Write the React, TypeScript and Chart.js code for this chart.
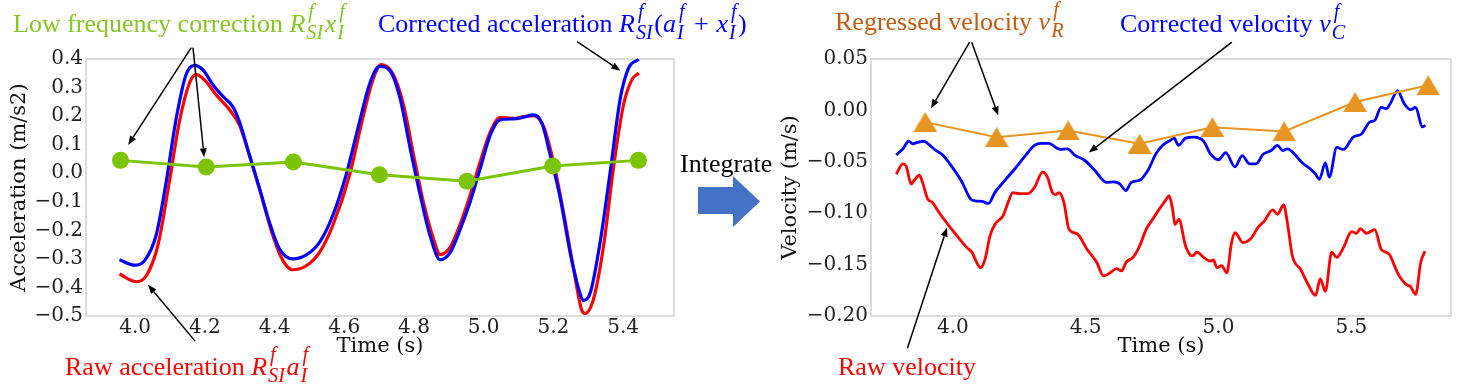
import React, { useEffect, useRef } from 'react';
import { Chart, registerables } from 'chart.js';
Chart.register(...registerables);

// ---------------- data ----------------
const accelTicksX = [4.0, 4.2, 4.4, 4.6, 4.8, 5.0, 5.2, 5.4];
const accelTicksY = [-0.5, -0.4, -0.3, -0.2, -0.1, 0.0, 0.1, 0.2, 0.3, 0.4];
const velTicksX = [4.0, 4.5, 5.0, 5.5];
const velTicksY = [-0.2, -0.15, -0.1, -0.05, 0.0, 0.05];

const corrAccT = [3.955, 3.998, 4.027, 4.060, 4.089, 4.118, 4.146, 4.170, 4.194, 4.223, 4.252, 4.280, 4.299, 4.328, 4.357, 4.385, 4.414, 4.452, 4.491, 4.529, 4.567, 4.605, 4.644, 4.672, 4.701, 4.732, 4.760, 4.789, 4.818, 4.846, 4.875, 4.904, 4.933, 4.961, 4.990, 5.019, 5.047, 5.086, 5.114, 5.143, 5.167, 5.191, 5.220, 5.248, 5.277, 5.286, 5.306, 5.334, 5.363, 5.392, 5.416, 5.445];
const corrAccV = [-0.303, -0.322, -0.306, -0.218, -0.031, 0.193, 0.345, 0.378, 0.363, 0.310, 0.269, 0.233, 0.181, 0.063, -0.054, -0.171, -0.265, -0.300, -0.286, -0.242, -0.148, -0.007, 0.181, 0.310, 0.374, 0.357, 0.263, 0.088, -0.077, -0.218, -0.303, -0.277, -0.195, -0.101, 0.016, 0.134, 0.187, 0.190, 0.196, 0.204, 0.175, 0.063, -0.089, -0.277, -0.424, -0.445, -0.418, -0.242, 0.005, 0.263, 0.369, 0.398];

const rawAccT = [3.955, 4.003, 4.032, 4.065, 4.098, 4.127, 4.156, 4.175, 4.199, 4.232, 4.271, 4.299, 4.328, 4.362, 4.395, 4.424, 4.452, 4.491, 4.529, 4.567, 4.615, 4.653, 4.682, 4.706, 4.741, 4.770, 4.799, 4.827, 4.856, 4.875, 4.904, 4.933, 4.961, 4.990, 5.019, 5.047, 5.086, 5.114, 5.143, 5.172, 5.200, 5.229, 5.258, 5.282, 5.291, 5.315, 5.344, 5.372, 5.401, 5.425, 5.445];
const rawAccV = [-0.353, -0.380, -0.359, -0.254, -0.031, 0.181, 0.316, 0.345, 0.327, 0.275, 0.222, 0.169, 0.063, -0.077, -0.218, -0.306, -0.338, -0.324, -0.277, -0.183, -0.007, 0.193, 0.327, 0.380, 0.345, 0.239, 0.063, -0.101, -0.230, -0.285, -0.259, -0.177, -0.077, 0.040, 0.145, 0.195, 0.192, 0.198, 0.202, 0.163, 0.040, -0.136, -0.336, -0.482, -0.491, -0.441, -0.254, 0.016, 0.239, 0.327, 0.351];

const lowFreqT = [3.958, 4.204, 4.454, 4.701, 4.952, 5.198, 5.444];
const lowFreqV = [0.045, 0.022, 0.039, -0.005, -0.028, 0.025, 0.045];

const corrVelT = [3.787, 3.812, 3.834, 3.849, 3.867, 3.892, 3.911, 3.936, 3.960, 3.997, 4.035, 4.066, 4.084, 4.109, 4.134, 4.158, 4.196, 4.233, 4.270, 4.307, 4.332, 4.363, 4.387, 4.406, 4.431, 4.461, 4.493, 4.530, 4.579, 4.604, 4.628, 4.651, 4.672, 4.703, 4.734, 4.765, 4.790, 4.820, 4.833, 4.849, 4.876, 4.907, 4.944, 4.969, 5.000, 5.027, 5.062, 5.089, 5.117, 5.142, 5.167, 5.198, 5.222, 5.241, 5.259, 5.291, 5.315, 5.346, 5.365, 5.380, 5.402, 5.417, 5.445, 5.470, 5.507, 5.538, 5.569, 5.588, 5.612, 5.631, 5.649, 5.674, 5.699, 5.723, 5.742, 5.767, 5.779];
const corrVelV = [-0.0433, -0.0374, -0.030, -0.0325, -0.031, -0.030, -0.0335, -0.039, -0.043, -0.055, -0.070, -0.086, -0.088, -0.0885, -0.0905, -0.080, -0.068, -0.057, -0.045, -0.034, -0.032, -0.032, -0.036, -0.038, -0.0375, -0.044, -0.048, -0.057, -0.070, -0.0695, -0.0715, -0.078, -0.070, -0.068, -0.0585, -0.042, -0.034, -0.029, -0.027, -0.034, -0.027, -0.026, -0.030, -0.042, -0.048, -0.041, -0.055, -0.044, -0.052, -0.052, -0.043, -0.039, -0.034, -0.039, -0.0375, -0.044, -0.051, -0.057, -0.062, -0.067, -0.051, -0.065, -0.036, -0.038, -0.026, -0.023, -0.0114, -0.0098, 0.003, 0.0016, 0.008, 0.019, 0.0065, 0.0007, 0.003, -0.016, -0.0147];

const rawVelT = [3.787, 3.812, 3.824, 3.843, 3.855, 3.874, 3.886, 3.905, 3.923, 3.948, 3.985, 4.022, 4.053, 4.072, 4.090, 4.105, 4.121, 4.140, 4.158, 4.189, 4.208, 4.226, 4.251, 4.282, 4.307, 4.338, 4.356, 4.375, 4.387, 4.400, 4.418, 4.437, 4.468, 4.505, 4.542, 4.567, 4.592, 4.616, 4.635, 4.653, 4.678, 4.703, 4.728, 4.752, 4.777, 4.802, 4.814, 4.827, 4.836, 4.851, 4.876, 4.901, 4.919, 4.944, 4.969, 4.981, 4.994, 5.012, 5.031, 5.049, 5.062, 5.092, 5.124, 5.148, 5.173, 5.204, 5.222, 5.245, 5.259, 5.278, 5.309, 5.334, 5.365, 5.383, 5.402, 5.426, 5.445, 5.470, 5.501, 5.519, 5.534, 5.556, 5.588, 5.612, 5.643, 5.662, 5.680, 5.705, 5.723, 5.742, 5.761, 5.777];
const rawVelV = [-0.062, -0.052, -0.054, -0.0716, -0.068, -0.063, -0.070, -0.086, -0.0895, -0.0993, -0.112, -0.124, -0.1335, -0.138, -0.148, -0.153, -0.145, -0.122, -0.111, -0.1025, -0.0895, -0.080, -0.081, -0.081, -0.075, -0.060, -0.065, -0.080, -0.082, -0.080, -0.0895, -0.1155, -0.120, -0.135, -0.148, -0.161, -0.158, -0.154, -0.156, -0.1475, -0.143, -0.132, -0.1155, -0.106, -0.096, -0.087, -0.083, -0.096, -0.111, -0.106, -0.132, -0.1416, -0.138, -0.143, -0.1465, -0.1455, -0.153, -0.151, -0.158, -0.1286, -0.119, -0.1286, -0.124, -0.114, -0.1074, -0.0967, -0.101, -0.092, -0.109, -0.1416, -0.1546, -0.1677, -0.180, -0.164, -0.176, -0.138, -0.143, -0.1335, -0.118, -0.1195, -0.115, -0.1195, -0.116, -0.135, -0.140, -0.151, -0.161, -0.169, -0.1716, -0.179, -0.148, -0.137];

const regVelT = [3.896, 4.165, 4.434, 4.703, 4.977, 5.247, 5.514, 5.789];
const regVelV = [-0.0114, -0.026, -0.0195, -0.0325, -0.0163, -0.0205, 0.0081, 0.0244];

// annotation arrows in data coordinates: [tailT, tailV, tipT, tipV]
const accelArrows = [
  [4.161, 0.440, 3.980, 0.099],
  [4.166, 0.440, 4.198, 0.056],
  [4.172, -0.588, 4.037, -0.391],
  [5.268, 0.461, 5.392, 0.359],
];
const velArrows = [
  [4.063, 0.0664, 3.918, 0.002],
  [4.071, 0.0664, 4.171, -0.0049],
  [5.050, 0.0664, 4.512, -0.041],
  [3.829, -0.2314, 3.978, -0.114],
];

// ---------------- styling ----------------
const BLUE = '#0000ff';
const RED = '#ff0000';
const GREEN = '#7cc300';
const GREEN_TEXT = '#86c726';
const ORANGE = '#e69422';
const ORANGE_TEXT = '#c55a11';
const TICK_FONT = { family: '"DejaVu Serif", serif', size: 20 };
const TITLE_FONT = { family: '"DejaVu Serif", serif', size: 21 };
const TEXT_FAMILY = '"Liberation Serif", "Times New Roman", serif';

const T = (b: string, sup: string, sub: string) => ({ b, sup, sub });
const OP = (s: string) => ({ op: s });

const leftLabels = [
  { x: 13, y: 32, color: GREEN_TEXT, parts: ['Low frequency correction ', T('R', 'f', 'SI'), T('x', 'f', 'I')] },
  { x: 378, y: 32, color: BLUE, parts: ['Corrected acceleration ', T('R', 'f', 'SI'), '(', T('a', 'f', 'I'), OP('+'), T('x', 'f', 'I'), ')'] },
  { x: 65, y: 375, color: RED, parts: ['Raw acceleration ', T('R', 'f', 'SI'), T('a', 'f', 'I')] },
  { x: 680, y: 172, color: '#000', parts: ['Integrate'] },
];
const rightLabels = [
  { x: 835, y: 30, color: ORANGE_TEXT, parts: ['Regressed velocity ', T('v', 'f', 'R')] },
  { x: 1120, y: 32, color: BLUE, parts: ['Corrected velocity ', T('v', 'f', 'C')] },
  { x: 838, y: 375, color: RED, parts: ['Raw velocity'] },
];

const RIGHT_OFFSET = 780;

function fmt(v: number, d: number) {
  const s = Math.abs(v).toFixed(d);
  return (v < -1e-9 ? '\u2212' : '') + s;
}

function drawRich(ctx: CanvasRenderingContext2D, x: number, y: number, parts: any[], color: string, size: number) {
  ctx.save();
  ctx.fillStyle = color;
  ctx.textBaseline = 'alphabetic';
  ctx.textAlign = 'left';
  const ss = size * 0.78;
  let cx = x;
  for (const p of parts) {
    if (typeof p === 'string') {
      ctx.font = `${size}px ${TEXT_FAMILY}`;
      ctx.fillText(p, cx, y);
      cx += ctx.measureText(p).width;
    } else if (p.op) {
      ctx.font = `${size}px ${TEXT_FAMILY}`;
      cx += size * 0.3;
      ctx.fillText(p.op, cx, y);
      cx += ctx.measureText(p.op).width + size * 0.3;
    } else {
      ctx.font = `italic ${size}px ${TEXT_FAMILY}`;
      ctx.fillText(p.b, cx, y);
      cx += ctx.measureText(p.b).width + 1;
      ctx.font = `italic ${ss}px ${TEXT_FAMILY}`;
      ctx.fillText(p.sup, cx + 2, y - size * 0.55);
      ctx.fillText(p.sub, cx, y + size * 0.25);
      cx += Math.max(ctx.measureText(p.sup).width + 2, ctx.measureText(p.sub).width) + 1.5;
    }
  }
  ctx.restore();
}

function drawArrow(ctx: CanvasRenderingContext2D, x1: number, y1: number, x2: number, y2: number) {
  const ang = Math.atan2(y2 - y1, x2 - x1);
  const hl = 9, hw = 3.5;
  const bx = x2 - hl * Math.cos(ang), by = y2 - hl * Math.sin(ang);
  ctx.save();
  ctx.strokeStyle = '#000';
  ctx.fillStyle = '#000';
  ctx.lineWidth = 1.5;
  ctx.beginPath();
  ctx.moveTo(x1, y1);
  ctx.lineTo(bx, by);
  ctx.stroke();
  ctx.beginPath();
  ctx.moveTo(x2, y2);
  ctx.lineTo(bx + hw * Math.sin(ang), by - hw * Math.cos(ang));
  ctx.lineTo(bx - hw * Math.sin(ang), by + hw * Math.cos(ang));
  ctx.closePath();
  ctx.fill();
  ctx.restore();
}

function triImage(color: string, w: number, h: number) {
  const c = document.createElement('canvas');
  c.width = w;
  c.height = h;
  const g = c.getContext('2d')!;
  g.fillStyle = color;
  g.beginPath();
  g.moveTo(w / 2, 0);
  g.lineTo(w, h);
  g.lineTo(0, h);
  g.closePath();
  g.fill();
  return c;
}

function decoPlugin(arrows: number[][], labels: any[], offset: number, withBlock: boolean) {
  return {
    id: 'deco',
    beforeDatasetsDraw(chart: any) {
      const { ctx, chartArea: a } = chart;
      ctx.save();
      ctx.strokeStyle = '#dcdcdc';
      ctx.lineWidth = 2;
      ctx.strokeRect(a.left, a.top, a.right - a.left, a.bottom - a.top);
      ctx.restore();
    },
    afterDraw(chart: any) {
      const { ctx, scales } = chart;
      for (const [t1, v1, t2, v2] of arrows) {
        drawArrow(ctx, scales.x.getPixelForValue(t1), scales.y.getPixelForValue(v1),
          scales.x.getPixelForValue(t2), scales.y.getPixelForValue(v2));
      }
      for (const l of labels) drawRich(ctx, l.x - offset, l.y, l.parts, l.color, 26);
      if (withBlock) {
        ctx.save();
        ctx.fillStyle = '#4472c4';
        ctx.beginPath();
        ctx.moveTo(698, 187);
        ctx.lineTo(733, 187);
        ctx.lineTo(733, 176);
        ctx.lineTo(760, 201.5);
        ctx.lineTo(733, 227);
        ctx.lineTo(733, 214);
        ctx.lineTo(698, 214);
        ctx.closePath();
        ctx.fill();
        ctx.restore();
      }
    },
  };
}

function makeScales(xr: number[], yr: number[], xt: number[], yt: number[], dec: number[], yTitle: string, yWidth: number, yTitlePad: number) {
  return {
    x: {
      type: 'linear', min: xr[0], max: xr[1],
      grid: { display: false, drawTicks: false },
      border: { display: false },
      afterBuildTicks: (s: any) => { s.ticks = xt.map((v) => ({ value: v })); },
      afterFit: (s: any) => { s.height = 71; },
      ticks: { callback: (v: number) => fmt(v, dec[0]), font: TICK_FONT, color: '#222', padding: 0, maxRotation: 0, autoSkip: false },
      title: { display: true, text: 'Time (s)', font: TITLE_FONT, color: '#111', padding: { top: 0, bottom: 27.4 } },
    },
    y: {
      type: 'linear', min: yr[0], max: yr[1],
      grid: { display: false, drawTicks: false },
      border: { display: false },
      afterBuildTicks: (s: any) => { s.ticks = yt.map((v) => ({ value: v })); },
      afterFit: (s: any) => { s.width = yWidth; },
      ticks: { callback: (v: number) => fmt(v, dec[1]), font: TICK_FONT, color: '#222', padding: 3, autoSkip: false },
      title: { display: true, text: yTitle, font: TITLE_FONT, color: '#111', padding: { top: yTitlePad, bottom: 0 } },
    },
  };
}

const pts = (t: number[], v: number[]) => t.map((x, i) => ({ x, y: v[i] }));

export default function App() {
  const leftRef = useRef<HTMLCanvasElement>(null);
  const rightRef = useRef<HTMLCanvasElement>(null);

  useEffect(() => {
    const c1 = new Chart(leftRef.current!, {
      type: 'line',
      data: {
        datasets: [
          { data: pts(lowFreqT, lowFreqV), borderColor: GREEN, backgroundColor: GREEN, borderWidth: 3, pointRadius: 8.5, pointBorderWidth: 0, pointBackgroundColor: GREEN, clip: false },
          { data: pts(corrAccT, corrAccV), borderColor: BLUE, borderWidth: 3.2, pointRadius: 0, cubicInterpolationMode: 'monotone', clip: false },
          { data: pts(rawAccT, rawAccV), borderColor: RED, borderWidth: 3.2, pointRadius: 0, cubicInterpolationMode: 'monotone', clip: false },
        ],
      } as any,
      options: {
        responsive: false,
        animation: false,
        layout: { padding: { left: 0, top: 59, right: 106, bottom: 0 } },
        plugins: { legend: { display: false }, tooltip: { enabled: false } },
        scales: makeScales([3.859, 5.546], [-0.5, 0.4], accelTicksX, accelTicksY, [1, 1], 'Acceleration (m/s2)', 86, 7.4) as any,
      },
      plugins: [decoPlugin(accelArrows, leftLabels, 0, true)],
    });
    const tri = triImage(ORANGE, 24, 20);
    const c2 = new Chart(rightRef.current!, {
      type: 'line',
      data: {
        datasets: [
          { data: pts(regVelT, regVelV), borderColor: ORANGE, borderWidth: 2, pointRadius: 12, pointStyle: tri, clip: false },
          { data: pts(corrVelT, corrVelV), borderColor: BLUE, borderWidth: 2.8, pointRadius: 0, cubicInterpolationMode: 'monotone', clip: false },
          { data: pts(rawVelT, rawVelV), borderColor: RED, borderWidth: 2.8, pointRadius: 0, cubicInterpolationMode: 'monotone', clip: false },
        ],
      } as any,
      options: {
        responsive: false,
        animation: false,
        layout: { padding: { left: 0, top: 59, right: 6, bottom: 0 } },
        plugins: { legend: { display: false }, tooltip: { enabled: false } },
        scales: makeScales([3.692, 5.875], [-0.2, 0.05], velTicksX, velTicksY, [1, 2], 'Velocity (m/s)', 91, -1.6) as any,
      },
      plugins: [decoPlugin(velArrows, rightLabels, RIGHT_OFFSET, false)],
    });
    return () => { c1.destroy(); c2.destroy(); };
  }, []);

  return (
    <div style={{ position: 'fixed', left: 0, top: 0, width: 1465, height: 387, background: '#fff', overflow: 'hidden' }}>
      <canvas ref={leftRef} width={780} height={387} style={{ position: 'absolute', left: 0, top: 0, width: 780, height: 387 }} />
      <canvas ref={rightRef} width={685} height={387} style={{ position: 'absolute', left: RIGHT_OFFSET, top: 0, width: 685, height: 387 }} />
    </div>
  );
}
